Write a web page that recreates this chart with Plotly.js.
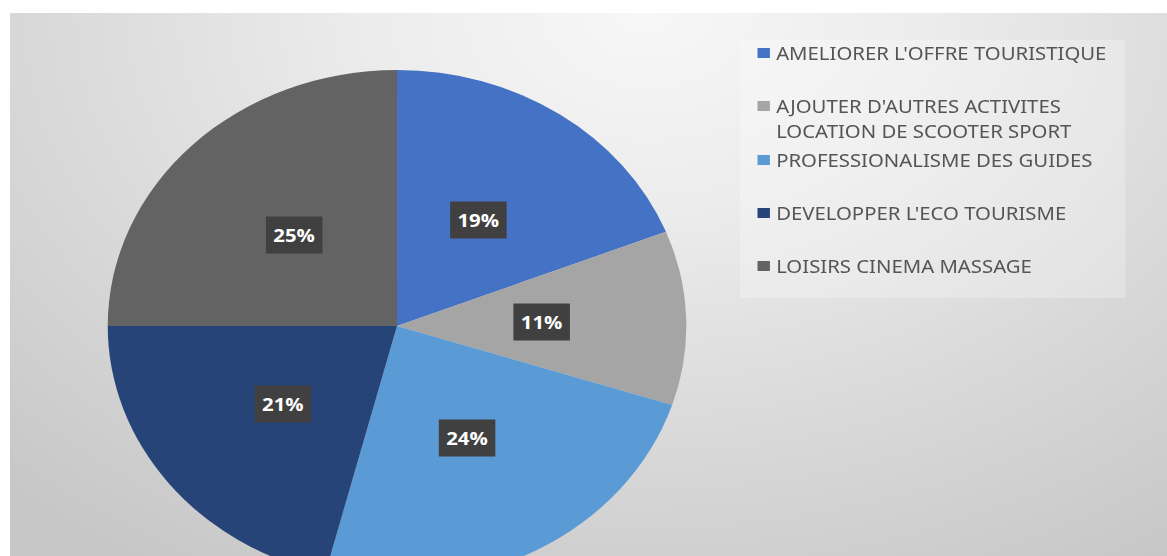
<!DOCTYPE html>
<html>
<head>
<meta charset="utf-8">
<script src="https://cdn.plot.ly/plotly-3.0.1.min.js"></script>
<style>
  html, body { margin:0; padding:0; background:#ffffff; width:1167px; height:556px; overflow:hidden; }
  #wrap { position:absolute; left:10px; top:13px; width:1157px; height:543px; overflow:hidden;
    background: radial-gradient(ellipse 80% 120% at 55% 0%, #f7f7f7 0%, #ececec 30%, #d9d9d9 65%, #c7c7c7 100%); }
  #chart { position:absolute; left:0; top:0; transform-origin:0 0; transform:scaleX(1.13); }
</style>
</head>
<body>
<div id="wrap"><div id="chart"></div></div>
<script>
// ---- data ----
const categories = [
  "AMELIORER L'OFFRE TOURISTIQUE",
  "AJOUTER D'AUTRES ACTIVITES LOCATION DE SCOOTER SPORT",
  "PROFESSIONALISME DES GUIDES",
  "DEVELOPPER L'ECO TOURISME",
  "LOISIRS CINEMA MASSAGE"
];
const legendLines = [
  ["AMELIORER L'OFFRE TOURISTIQUE"],
  ["AJOUTER D'AUTRES ACTIVITES", "LOCATION DE SCOOTER SPORT"],
  ["PROFESSIONALISME DES GUIDES"],
  ["DEVELOPPER L'ECO TOURISME"],
  ["LOISIRS CINEMA MASSAGE"]
];
const values = [19, 11, 24, 21, 25];
const colors = ["#4472C4", "#A5A5A5", "#5B9BD5", "#264478", "#636363"];

// ---- layout geometry (inner, unscaled px) ----
const SX = 1.13;
const W = Math.round(1157 / SX);
const H = 640;
const cx = 342.5, cy = 313, r = 256;
const dom = { x: [(cx - r) / W, (cx + r) / W], y: [1 - (cy + r) / H, 1 - (cy - r) / H] };

const trace = {
  type: 'pie',
  labels: categories,
  values: values,
  sort: false,
  direction: 'clockwise',
  rotation: 0,
  marker: { colors: colors, line: { width: 0 } },
  textinfo: 'none',
  hoverinfo: 'none',
  showlegend: false,
  domain: dom
};

const total = values.reduce((a, b) => a + b, 0);
const annotations = [];
const shapes = [];
// percentage labels at slice mid-angles
let cum = 0;
values.forEach((v, i) => {
  const mid = (cum + v / 2) / total * 2 * Math.PI;
  cum += v;
  const f = 0.5;
  const px = cx + f * r * Math.sin(mid);
  const py = cy - f * r * Math.cos(mid);
  annotations.push({
    xref: 'paper', yref: 'paper', x: px / W, y: 1 - py / H,
    xanchor: 'center', yanchor: 'middle', showarrow: false,
    text: '<b>' + Math.round(v / total * 100) + '%</b>',
    font: { family: 'Open Sans, sans-serif', size: 18, color: '#ffffff' },
    bgcolor: '#404040', borderpad: 6
  });
});

// legend box
shapes.push({ type: 'rect', xref: 'paper', yref: 'paper', x0: 646 / W, x1: 987 / W, y0: 1 - 285 / H, y1: 1 - 27 / H,
  fillcolor: 'rgba(255,255,255,0.25)', line: { width: 0 }, layer: 'below' });

// custom legend (text rows)
const rowY = [[40], [93, 118], [147], [200], [253]];
const textX = 676, markX = 667, mh = 10, mw = 11;
legendLines.forEach((lines, i) => {
  lines.forEach((t, j) => {
    annotations.push({
      xref: 'paper', yref: 'paper', x: textX / W, y: 1 - rowY[i][j] / H,
      xanchor: 'left', yanchor: 'middle', showarrow: false, align: 'left',
      text: t, font: { family: 'Noto Sans, sans-serif', size: 18, color: '#555555' }
    });
  });
  shapes.push({ type: 'rect', xref: 'paper', yref: 'paper',
    x0: (markX - mw / 2) / W, x1: (markX + mw / 2) / W,
    y0: 1 - (rowY[i][0] + mh / 2) / H, y1: 1 - (rowY[i][0] - mh / 2) / H,
    fillcolor: colors[i], line: { width: 0 } });
});

const layout = {
  width: W, height: H,
  margin: { l: 0, r: 0, t: 0, b: 0 },
  paper_bgcolor: 'rgba(0,0,0,0)', plot_bgcolor: 'rgba(0,0,0,0)',
  showlegend: false,
  annotations: annotations,
  shapes: shapes
};

Plotly.newPlot('chart', [trace], layout, { displayModeBar: false, staticPlot: true });
</script>
</body>
</html>
